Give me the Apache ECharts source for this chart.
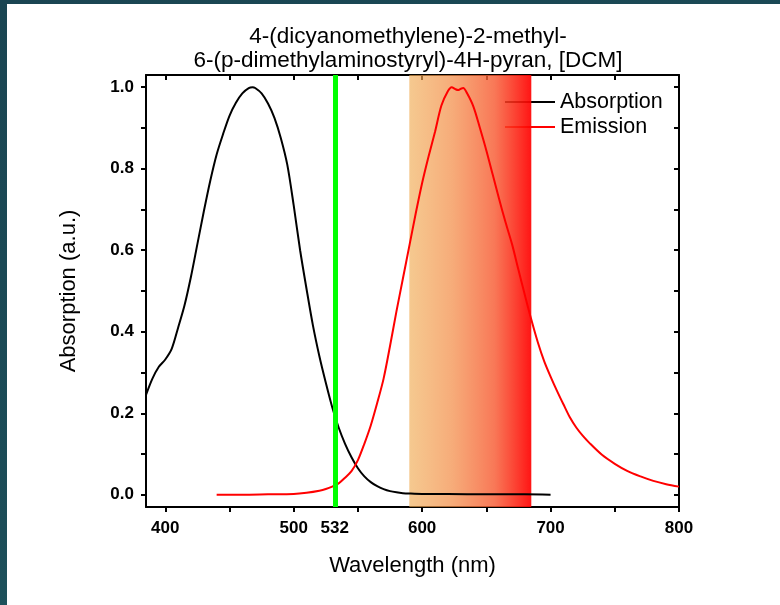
<!DOCTYPE html>
<html>
<head>
<meta charset="utf-8">
<script src="https://cdn.jsdelivr.net/npm/echarts@6/dist/echarts.min.js"></script>
<style>
html,body{margin:0;padding:0;width:780px;height:605px;overflow:hidden;
background:linear-gradient(160deg,#1a4552 0%,#1c4d58 60%,#235f66 100%);}
#chart{position:absolute;left:7px;top:4px;width:773px;height:601px;background:#fff;}
</style>
</head>
<body>
<div id="chart"></div>
<script>
// ---- data ----
const titleLines = ['4-(dicyanomethylene)-2-methyl-', '6-(p-dimethylaminostyryl)-4H-pyran, [DCM]'];
const absWl = [385,390,395,400,405,410,415,420,425,430,435,440,445,450,455,460,465,468,470,475,480,485,490,495,500,505,510,515,520,525,530,535,540,545,550,555,560,565,570,575,580,585,590,600,620,650,680,700];
const absVal = [0.245,0.285,0.314,0.332,0.358,0.41,0.465,0.535,0.615,0.695,0.77,0.835,0.885,0.93,0.962,0.985,0.998,1.0,0.998,0.985,0.96,0.925,0.875,0.81,0.71,0.60,0.505,0.415,0.34,0.275,0.215,0.165,0.125,0.092,0.065,0.045,0.031,0.021,0.014,0.009,0.006,0.004,0.003,0.002,0.002,0.001,0.001,0.0];
const emWl = [440,460,480,500,510,520,525,530,535,540,545,550,555,560,565,570,575,580,585,590,595,600,605,610,615,620,623,626,628,630,632,635,640,645,650,655,660,665,670,675,680,685,690,695,700,705,710,715,720,725,730,740,750,760,770,780,790,800];
const emVal = [0.0,0.0,0.001,0.002,0.005,0.01,0.014,0.02,0.028,0.042,0.058,0.085,0.125,0.17,0.225,0.285,0.365,0.45,0.53,0.61,0.69,0.765,0.83,0.89,0.955,0.99,1.0,0.995,0.993,0.996,0.998,0.985,0.952,0.9,0.845,0.785,0.725,0.668,0.615,0.552,0.49,0.43,0.375,0.328,0.29,0.255,0.222,0.19,0.165,0.145,0.128,0.098,0.076,0.058,0.045,0.034,0.026,0.02];
const xLabelValues = [400,500,532,600,700,800];
const xTickValues = [400,450,500,550,600,650,700,750,800];
const yLabelValues = [0,0.2,0.4,0.6,0.8,1.0];
const yTickValues = [0,0.1,0.2,0.3,0.4,0.5,0.6,0.7,0.8,0.9,1.0];
const laserLine = [532];
const detectBand = [590, 685];
const seriesNames = ['Absorption', 'Emission'];

const absData = absWl.map((w,i)=>[w,absVal[i]]);
const emData = emWl.map((w,i)=>[w,emVal[i]]);

const FONT = 'Liberation Sans, Arial, sans-serif';
const chart = echarts.init(document.getElementById('chart'));

const axisLineStyle = {color:'#000', width:2};
function xAxis(pos, labels){
  return {
    type:'value', min:385, max:800, position:pos,
    axisLine:{show:true, onZero:false, lineStyle:axisLineStyle},
    axisTick:{show:true, inside: pos==='top', length:5, lineStyle:{color:'#000', width:2}, customValues:xTickValues},
    axisLabel:{show:labels, customValues:xLabelValues, margin:13, color:'#000', fontFamily:FONT, fontWeight:'bold', fontSize:17},
    splitLine:{show:false},
    name: labels ? 'Wavelength (nm)' : '',
    nameLocation:'middle', nameGap:48,
    nameTextStyle:{color:'#000', fontFamily:FONT, fontSize:22}
  };
}
function yAxis(pos, labels){
  return {
    type:'value', min:-0.03, max:1.03, position:pos,
    axisLine:{show:true, onZero:false, lineStyle:axisLineStyle},
    axisTick:{show:true, inside: pos==='right', length:5, lineStyle:{color:'#000', width:2}, customValues:yTickValues},
    axisLabel:{show:labels, customValues:yLabelValues, margin:12, color:'#000', fontFamily:FONT, fontWeight:'bold', fontSize:17,
      formatter:v=>v.toFixed(1)},
    splitLine:{show:false},
    name: labels ? 'Absorption (a.u.)' : '',
    nameLocation:'middle', nameGap:66,
    nameTextStyle:{color:'#000', fontFamily:FONT, fontSize:22}
  };
}

chart.setOption({
  animation:false,
  backgroundColor:'#fff',
  title:{
    text: titleLines.join('\n'),
    left: 396, top: 16, textAlign:'center',
    textStyle:{color:'#000', fontFamily:FONT, fontWeight:'normal', fontSize:22.5, lineHeight:24}
  },
  grid:{left:139, right:101, top:71, bottom:98, containLabel:false},
  legend:{
    data: seriesNames,
    icon:'rect',
    orient:'vertical', left:493, top:82,
    itemWidth:50, itemHeight:2, itemGap:3,
    textStyle:{color:'#000', fontFamily:FONT, fontSize:21.5},
    z:1
  },
  xAxis:[xAxis('bottom', true), xAxis('top', false)],
  yAxis:[yAxis('left', true), yAxis('right', false)],
  series:[
    {name:seriesNames[0], type:'line', data:absData, showSymbol:false, symbol:'none', smooth:0.3,
     lineStyle:{color:'#000', width:2}, itemStyle:{color:'#000'}, z:2},
    {name:seriesNames[1], type:'line', data:emData, showSymbol:false, symbol:'none', smooth:0.3,
     lineStyle:{color:'#ff0000', width:2}, itemStyle:{color:'#ff0000'}, z:3},
    {name:'overlay', type:'line', data:[], z:10, silent:true,
     markArea:{silent:true,
       itemStyle:{color:{type:'linear', x:0, y:0, x2:1, y2:0, colorStops:[
         {offset:0, color:'rgba(240,172,84,0.65)'},
         {offset:0.35, color:'rgba(243,140,70,0.72)'},
         {offset:0.7, color:'rgba(247,90,50,0.82)'},
         {offset:1, color:'rgba(255,0,0,0.92)'}]}},
       data:[[{xAxis:detectBand[0], yAxis:-0.03},{xAxis:detectBand[1], yAxis:1.03}]]},
     markLine:{silent:true, symbol:['none','none'], label:{show:false},
       lineStyle:{color:'#00ff00', width:5, type:'solid'},
       data: laserLine.map(v=>({xAxis:v}))}
    }
  ]
});
</script>
</body>
</html>
